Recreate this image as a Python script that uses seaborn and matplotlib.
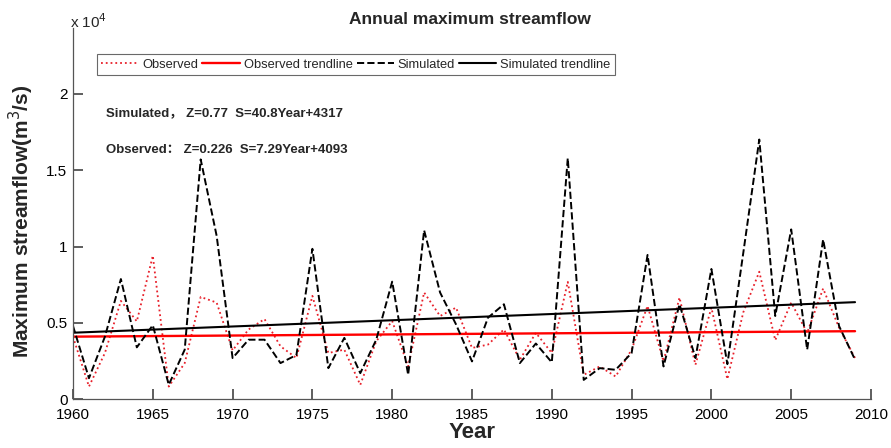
import matplotlib
matplotlib.use("Agg")
import matplotlib.pyplot as plt
import seaborn as sns
import numpy as np
import pandas as pd
from matplotlib.ticker import FixedLocator, FuncFormatter

years = list(range(1960, 2010))
simulated = [4800, 1380, 4100, 7870, 3400, 4850, 950, 3250, 15700, 10700,
             2700, 3900, 3900, 2370, 2900, 9850, 2040, 4020, 1710, 3900,
             7700, 1600, 11060, 6990, 4900, 2480, 5340, 6220, 2370, 3650,
             2420, 15780, 1270, 2040, 1930, 3030, 9450, 2150, 6220, 2700,
             8530, 2300, 9600, 17000, 5450, 11120, 3250, 10460, 4790, 2590]
observed = [4100, 835, 3030, 6440, 5100, 9400, 835, 2370, 6700, 6330,
            3200, 4570, 5250, 3470, 2700, 6770, 3030, 3250, 945, 3800,
            5120, 2150, 6990, 5450, 6000, 3360, 3580, 4570, 2590, 4350,
            3030, 7690, 1600, 2150, 1490, 3250, 6110, 2480, 6660, 2260,
            6000, 1320, 5700, 8350, 3870, 6330, 4350, 7250, 4680, 2700]
sim_slope, sim_intercept = 40.8, 4317
obs_slope, obs_intercept = 7.29, 4093
yticks = [0, 5000, 10000, 15000, 20000]
xticks = [1960, 1965, 1970, 1975, 1980, 1985, 1990, 1995, 2000, 2005, 2010]

idx = np.arange(1, len(years) + 1)
df = pd.DataFrame({
    "Year": years,
    "Observed": observed,
    "Simulated": simulated,
    "ObsTrend": obs_intercept + obs_slope * idx,
    "SimTrend": sim_intercept + sim_slope * idx,
})

sns.set_style("ticks", {"xtick.direction": "in", "ytick.direction": "in"})
plt.rcParams['font.family'] = ['Liberation Sans', 'Noto Sans CJK SC', 'DejaVu Sans']

fig = plt.figure(figsize=(8.91, 4.48), dpi=100)
ax = fig.add_axes([73/891, 1-399.3/448, (871-73)/891, (399.3-28)/448])

sns.lineplot(data=df, x="Year", y="Observed", ax=ax, color="#e8202a",
             linestyle=":", linewidth=1.3, label="Observed")
sns.lineplot(data=df, x="Year", y="ObsTrend", ax=ax, color="#ff0000",
             linestyle="-", linewidth=1.7, label="Observed trendline")
sns.lineplot(data=df, x="Year", y="Simulated", ax=ax, color="black",
             linestyle="--", linewidth=1.4, label="Simulated")
sns.lineplot(data=df, x="Year", y="SimTrend", ax=ax, color="black",
             linestyle="-", linewidth=1.5, label="Simulated trendline")

ax.set_xlim(1960, 2010)
ax.set_ylim(0, 24300)
ax.xaxis.set_major_locator(FixedLocator(xticks))
ax.yaxis.set_major_locator(FixedLocator(yticks))
ax.yaxis.set_major_formatter(FuncFormatter(lambda v, p: f"{v/1e4:g}"))
ax.tick_params(which="major", bottom=True, left=True, direction="in", length=7,
               width=1.1, color="#333333", labelsize=11, labelcolor="black", pad=4)
ax.tick_params(axis="x", pad=6)
for s in ["top", "right"]:
    ax.spines[s].set_visible(False)
for s in ["left", "bottom"]:
    ax.spines[s].set_color("#555555")
    ax.spines[s].set_linewidth(0.9)

ax.set_xlabel("Year", fontsize=16, fontweight="bold", labelpad=0)
ax.set_ylabel("Maximum streamflow(m$^3$/s)", fontsize=15, fontweight="bold")
ax.yaxis.set_label_coords(-0.046, 0.48)

leg = ax.legend(loc="center", bbox_to_anchor=(356/891, 1-64.5/448),
                bbox_transform=fig.transFigure, ncol=4, fontsize=9.3,
                frameon=True, fancybox=False, handlelength=2.9,
                handletextpad=0.3, columnspacing=0.3, borderpad=0.35)
leg.get_frame().set_edgecolor("#444444")
leg.get_frame().set_linewidth(0.8)

fig.text(470/891, 1-20/448, "Annual maximum streamflow", ha="center", va="center",
         fontsize=12.5, fontweight="bold")
fig.text(70/891, 1-22/448, r"x 10$^4$", ha="left", va="center", fontsize=11)
fig.text(106/891, 1-113/448, "Simulated， Z=0.77  S=40.8Year+4317", ha="left",
         va="center", fontsize=9.5, fontweight="bold")
fig.text(106/891, 1-150/448, "Observed： Z=0.226  S=7.29Year+4093", ha="left",
         va="center", fontsize=9.5, fontweight="bold")

fig.savefig("out.png", dpi=100)
